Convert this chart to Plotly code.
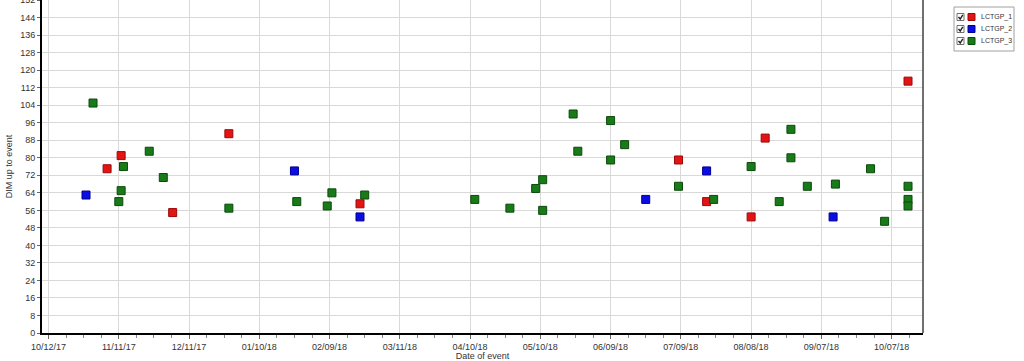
import plotly.graph_objects as go

# ---- data ----
lctgp1_dates = ["2017-11-06", "2017-11-12", "2017-12-04", "2017-12-28", "2018-02-22",
                "2018-07-08", "2018-07-20", "2018-08-08", "2018-08-14", "2018-10-14"]
lctgp1_dim = [75, 81, 55, 91, 59, 79, 60, 53, 89, 115]

lctgp2_dates = ["2017-10-28", "2018-01-25", "2018-02-22", "2018-06-24", "2018-07-20", "2018-09-12"]
lctgp2_dim = [63, 74, 53, 61, 74, 53]

lctgp3_dates = ["2017-10-31", "2017-11-11", "2017-11-12", "2017-11-13", "2017-11-24", "2017-11-30",
                "2017-12-28", "2018-01-26", "2018-02-08", "2018-02-10", "2018-02-24", "2018-04-12",
                "2018-04-27", "2018-05-08", "2018-05-11", "2018-05-11", "2018-05-24", "2018-05-26",
                "2018-06-09", "2018-06-09", "2018-06-15", "2018-07-08", "2018-07-23", "2018-08-08",
                "2018-08-20", "2018-08-25", "2018-08-25", "2018-09-01", "2018-09-13", "2018-09-28",
                "2018-10-04", "2018-10-14", "2018-10-14", "2018-10-14"]
lctgp3_dim = [105, 60, 65, 76, 83, 71,
              57, 60, 58, 64, 63, 61,
              57, 66, 70, 56, 100, 83,
              97, 79, 86, 67, 61, 76,
              60, 93, 80, 67, 68, 75,
              51, 67, 61, 58]

series_names = ["LCTGP_1", "LCTGP_2", "LCTGP_3"]
series_dates = [lctgp1_dates, lctgp2_dates, lctgp3_dates]
series_dims = [lctgp1_dim, lctgp2_dim, lctgp3_dim]
fill_colors = ["#e31414", "#0c0ce6", "#187a18"]
edge_colors = ["#9a0a0a", "#00008c", "#0b4a0b"]

DAY = 86400000
W, H = 1024, 361
ML, MR, MT, MB = 42, 101, 0, 28
PW, PH = W - ML - MR, H - MT - MB

fig = go.Figure()
for name, d, v, col, edge in zip(series_names, series_dates, series_dims, fill_colors, edge_colors):
    fig.add_trace(go.Scatter(
        x=d, y=v, mode="markers", name=name, showlegend=False,
        marker=dict(symbol="square", size=8, color=col, line=dict(color=edge, width=1)),
    ))

font_family = "Liberation Sans, Arial, sans-serif"

fig.update_layout(
    width=W, height=H,
    margin=dict(l=ML, r=MR, t=MT, b=MB, autoexpand=False),
    paper_bgcolor="white", plot_bgcolor="white",
    font=dict(family=font_family, size=9, color="#333333"),
    showlegend=False,
    xaxis=dict(
        type="date",
        range=["2017-10-09 05:00", "2018-10-20 09:30"],
        tick0="2017-10-12", dtick=30 * DAY, tickformat="%m/%d/%y",
        showgrid=True, gridcolor="#d9d9d9", gridwidth=1,
        showline=True, linecolor="#000000", linewidth=2,
        ticks="outside", ticklen=4, tickcolor="#666666",
        minor=dict(dtick=7.5 * DAY, tick0="2017-10-12", ticks="outside", ticklen=3,
                   tickcolor="#888888", showgrid=False),
        tickfont=dict(size=9, color="#333333"),
        title=dict(text="Date of event", font=dict(size=9, color="#333333"), standoff=0),
        zeroline=False, automargin=False,
    ),
    yaxis=dict(
        range=[0, 152.05], tick0=0, dtick=8,
        showgrid=True, gridcolor="#d9d9d9", gridwidth=1,
        showline=True, linecolor="#000000", linewidth=2,
        ticks="outside", ticklen=3, tickcolor="#666666",
        tickfont=dict(size=9, color="#333333"),
        ticklabeloverflow="allow",
        title=dict(text="DIM up to event", font=dict(size=9, color="#333333"), standoff=6),
        zeroline=False, automargin=False,
    ),
)

# right frame line
fig.add_shape(type="line", xref="paper", yref="paper", x0=1, x1=1, y0=0, y1=1,
              line=dict(color="#404040", width=1.5))


# ---- legend box (Windows-style with checkboxes) ----
def px(x):
    return (x - ML) / PW


def py(y):
    return 1 - (y - MT) / PH


box_l, box_r, box_t, box_b = 954, 1014, 7, 51
fig.add_shape(type="rect", xref="paper", yref="paper",
              x0=px(box_l), x1=px(box_r), y0=py(box_b), y1=py(box_t),
              line=dict(color="#a0a0a0", width=1), fillcolor="white", layer="above")

row_y0, row_step = 17, 12
for i, (name, col, edge) in enumerate(zip(series_names, fill_colors, edge_colors)):
    cy = row_y0 + i * row_step
    # checkbox
    fig.add_shape(type="rect", xref="paper", yref="paper",
                  x0=px(957), x1=px(964), y0=py(cy + 3.5), y1=py(cy - 3.5),
                  line=dict(color="#707070", width=1), fillcolor="white", layer="above")
    fig.add_shape(type="path", xref="paper", yref="paper",
                  path=f"M {px(958.5)} {py(cy)} L {px(960.2)} {py(cy + 2)} L {px(962.8)} {py(cy - 2.2)}",
                  line=dict(color="#202020", width=1.4), layer="above")
    # colour swatch
    fig.add_shape(type="rect", xref="paper", yref="paper",
                  x0=px(968), x1=px(975), y0=py(cy + 3.5), y1=py(cy - 3.5),
                  line=dict(color=edge, width=1), fillcolor=col, layer="above")
    fig.add_annotation(xref="paper", yref="paper", x=px(979), y=py(cy),
                       xanchor="left", yanchor="middle", showarrow=False,
                       text=name, font=dict(size=7, color="#333333", family=font_family))

fig.write_html("out.html")
